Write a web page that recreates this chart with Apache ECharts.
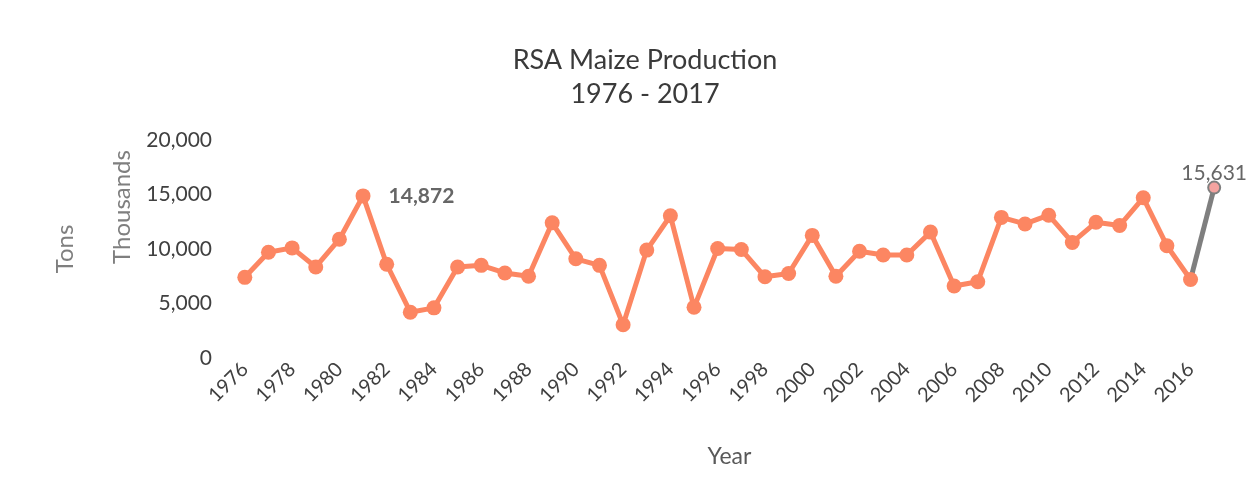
<!DOCTYPE html>
<html>
<head>
<meta charset="utf-8">
<script src="https://cdn.jsdelivr.net/npm/echarts@6/dist/echarts.min.js"></script>
<style>
  html, body { margin: 0; padding: 0; background: #fff; }
  #main { width: 1249px; height: 495px; }
</style>
</head>
<body>
<div id="main"></div>
<script>
// 年份
var years = [];
for (var y = 1976; y <= 2017; y++) years.push(String(y));

// 产量 (千吨)
var production = [
    7400, 9700, 10100, 8350, 10900, 14872, 8600, 4200, 4600, 8350,
    8500, 7800, 7500, 12400, 9100, 8500, 3050, 9900, 13050, 4650,
    10050, 9950, 7450, 7750, 11250, 7500, 9800, 9450, 9450, 11550,
    6600, 7000, 12900, 12300, 13100, 10600, 12450, 12150, 14700, 10300,
    7200, 15631
];

// 标注的年份
var labelled = ['1981', '2017'];

var main = document.getElementById('main');
var chart = echarts.init(main);

var font = 'Lato, "Open Sans", sans-serif';
var orange = '#fc8662';
var grey = '#7f7f7f';

// 主线：最后一段单独用灰色
var mainData = production.map(function (v, i) {
    if (i === production.length - 1) return null;
    var item = { value: v };
    if (labelled.indexOf(years[i]) >= 0) {
        item.label = { show: true, position: 'right', distance: 18 };
    }
    return item;
});
var lastData = production.map(function (v, i) {
    if (i < production.length - 2) return null;
    if (i === production.length - 2) return { value: v, symbolSize: 0 };
    return {
        value: v,
        label: { show: true, position: 'top', distance: -3 }
    };
});

var option = {
    animation: false,
    title: {
        text: 'RSA Maize Production\n1976 - 2017',
        left: 640,
        top: 38,
        textAlign: 'center',
        textStyle: {
            fontFamily: font,
            fontSize: 27,
            fontWeight: 'normal',
            color: '#3a3a3a',
            lineHeight: 34
        }
    },
    grid: { left: 233, right: 23, top: 140, bottom: 137 },
    xAxis: {
        type: 'category',
        data: years,
        name: 'Year',
        nameLocation: 'middle',
        nameGap: 87,
        nameTextStyle: { fontFamily: font, fontSize: 23, color: '#595959' },
        axisLine: { show: false },
        axisTick: { show: false },
        axisLabel: {
            rotate: 45,
            interval: 1,
            margin: 8,
            fontFamily: font,
            fontSize: 20,
            color: '#404040'
        }
    },
    yAxis: {
        type: 'value',
        min: 0,
        max: 20000,
        interval: 5000,
        name: 'Tons',
        nameLocation: 'middle',
        nameGap: 156,
        nameTextStyle: { fontFamily: font, fontSize: 24, color: '#7f7f7f' },
        axisLine: { show: false },
        axisTick: { show: false },
        splitLine: { show: false },
        axisLabel: {
            margin: 21,
            fontFamily: font,
            fontSize: 21,
            color: '#404040',
            formatter: function (v) { return v.toLocaleString('en-US'); }
        }
    },
    graphic: [
        {
            type: 'text',
            x: 122,
            y: 207,
            rotation: Math.PI / 2,
            style: {
                text: 'Thousands',
                fontFamily: font,
                fontSize: 24,
                fill: '#7f7f7f',
                align: 'center',
                verticalAlign: 'middle'
            }
        }
    ],
    series: [
        {
            type: 'line',
            data: lastData,
            z: 2,
            symbol: 'circle',
            symbolSize: 12,
            lineStyle: { color: grey, width: 5 },
            itemStyle: { color: '#f4a3a0', borderColor: grey, borderWidth: 2 },
            label: {
                fontFamily: font,
                fontSize: 21,
                color: '#666',
                formatter: function (p) { return p.value.toLocaleString('en-US'); }
            }
        },
        {
            type: 'line',
            data: mainData,
            z: 3,
            symbol: 'circle',
            symbolSize: 15,
            lineStyle: { color: orange, width: 5 },
            itemStyle: { color: orange },
            label: {
                fontFamily: font,
                fontSize: 21,
                fontWeight: 'bold',
                color: '#666',
                formatter: function (p) { return p.value.toLocaleString('en-US'); }
            }
        }
    ]
};

chart.setOption(option);
</script>
</body>
</html>
